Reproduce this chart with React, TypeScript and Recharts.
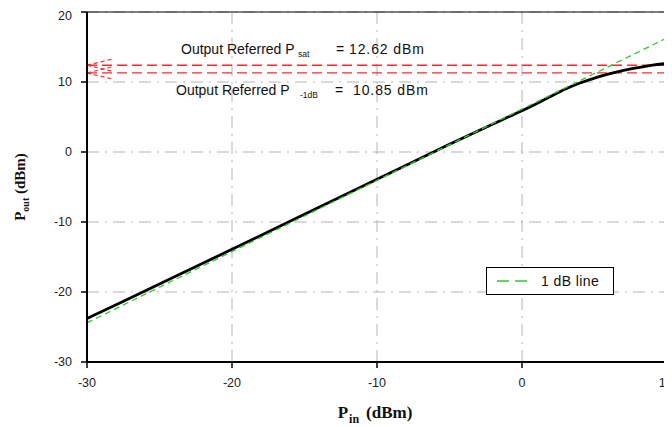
import {
  LineChart,
  Line,
  XAxis,
  YAxis,
  CartesianGrid,
  ReferenceLine,
  Legend,
} from "recharts";

// measured output power vs input power (dBm)
const pinMeasured = [-30, -25, -20, -15, -10, -5, -3, -2, -1, 0, 1, 2, 3, 4, 5, 6, 7, 8, 9, 10];
const poutMeasured = [
  -23.8, -18.85, -13.9, -8.9, -3.9, 1.1, 3.05, 4.0, 4.95, 5.9, 6.9, 7.95, 9.0, 9.85, 10.55, 11.15,
  11.65, 12.05, 12.4, 12.65,
];

// ideal 1 dB line
const oneDbPin = [-30, 10];
const oneDbPout = [-24.4, 16.3];

const xTicks = [-30, -20, -10, 0, 10];
const yTicks = [-30, -20, -10, 0, 10, 20];

// reference levels (as drawn) and their printed values
const psatLevel = 12.4;
const p1dbLevel = 11.3;
const psatText = "12.62 dBm";
const p1dbText = "10.85 dBm";

// little arrow strokes at the left end of the red lines
const arrowPin = [-30, -28.2];
const arrowSpread = [0.9, -0.9];

const measured = pinMeasured.map((x, i) => ({ x, y: poutMeasured[i] }));
const oneDb = oneDbPin.map((x, i) => ({ x, y: oneDbPout[i] }));
const arrows = [psatLevel, p1dbLevel].flatMap((level) =>
  arrowSpread.map((s) => [
    { x: arrowPin[0], y: level },
    { x: arrowPin[1], y: level + s },
  ])
);

const SANS = "Liberation Sans, Arial, sans-serif";
const SERIF = "Liberation Serif, Times New Roman, serif";
const RED = "#ff2b2b";
const GREEN = "#2ccc2c";

const SatLabel = (props: any) => {
  const { x, y } = props.viewBox;
  const by = y - 11;
  return (
    <text y={by} fontFamily={SANS} fontSize={14} fill="#111">
      <tspan x={x + 94}>Output Referred P</tspan>
      <tspan x={x + 211} y={by + 3} fontSize={8.5}>sat</tspan>
      <tspan x={x + 249} y={by}>=</tspan>
      <tspan x={x + 262} letterSpacing={0.9}>{psatText}</tspan>
    </text>
  );
};

const P1dbLabel = (props: any) => {
  const { x, y } = props.viewBox;
  const by = y + 22;
  return (
    <text y={by} fontFamily={SANS} fontSize={14} fill="#111">
      <tspan x={x + 89}>Output Referred P</tspan>
      <tspan x={x + 213} y={by + 3} fontSize={8.5}>-1dB</tspan>
      <tspan x={x + 248} y={by}>=</tspan>
      <tspan x={x + 266} letterSpacing={0.9}>{p1dbText}</tspan>
    </text>
  );
};

const YLabel = (props: any) => {
  const { y, height } = props.viewBox;
  const cx = 17;
  const cy = y + height / 2;
  return (
    <text
      x={cx}
      y={cy}
      transform={`rotate(-90 ${cx} ${cy})`}
      textAnchor="middle"
      fontFamily={SERIF}
      fontWeight="bold"
      fontSize={15}
      fill="#111"
    >
      P
      <tspan dy={4} fontSize={10}>out</tspan>
      <tspan dy={-4}> (dBm)</tspan>
    </text>
  );
};

const XLabel = (props: any) => {
  const { x, y, width } = props.viewBox;
  return (
    <text
      x={x + width / 2 - 2}
      y={y + 56}
      textAnchor="middle"
      fontFamily={SERIF}
      fontWeight="bold"
      fontSize={17}
      fill="#111"
    >
      P
      <tspan dx={1} dy={5} fontSize={12}>in</tspan>
      <tspan dx={7} dy={-5}>(dBm)</tspan>
    </text>
  );
};

const LegendBox = () => (
  <div
    style={{
      width: 126,
      height: 26,
      border: "1px solid #000",
      background: "#fff",
      display: "flex",
      alignItems: "center",
      fontFamily: SANS,
      fontSize: 14,
      letterSpacing: 0.4,
      color: "#111",
    }}
  >
    <svg width={54} height={10} style={{ display: "block" }}>
      <line x1={10} y1={5} x2={40} y2={5} stroke={GREEN} strokeWidth={1.5} strokeDasharray="12 6" />
    </svg>
    <span>1 dB line</span>
  </div>
);

const App = () => {
  return (
    <LineChart
      width={664}
      height={419}
      margin={{ top: 4, right: 5, left: 19, bottom: 35 }}
    >
      <CartesianGrid stroke="#b5b5b5" strokeDasharray="12 6 2 6" />
      <XAxis
        type="number"
        dataKey="x"
        domain={[-30, 10]}
        ticks={xTicks}
        height={30}
        tickSize={6}
        tickMargin={10}
        axisLine={{ stroke: "#000", strokeWidth: 2 }}
        tickLine={{ stroke: "#000", strokeWidth: 1.5 }}
        tick={{ fill: "#222", fontSize: 12.5, fontFamily: SANS }}
        label={<XLabel />}
      />
      <YAxis
        type="number"
        dataKey="y"
        domain={[-30, 20]}
        ticks={yTicks}
        width={60}
        tickSize={6}
        tickMargin={9}
        axisLine={{ stroke: "#000", strokeWidth: 2 }}
        tickLine={{ stroke: "#000", strokeWidth: 1.5 }}
        tick={{ fill: "#222", fontSize: 12.5, fontFamily: SANS }}
        label={<YLabel />}
      />
      <ReferenceLine y={20} stroke="#000" strokeWidth={1.2} />
      <ReferenceLine x={10} stroke="#000" strokeWidth={1.5} />
      <ReferenceLine
        y={psatLevel}
        stroke={RED}
        strokeWidth={1.4}
        strokeDasharray="10 5"
        label={<SatLabel />}
      />
      <ReferenceLine
        y={p1dbLevel}
        stroke={RED}
        strokeWidth={1.4}
        strokeDasharray="10 5"
        label={<P1dbLabel />}
      />
      {arrows.map((seg, i) => (
        <Line
          key={i}
          data={seg}
          dataKey="y"
          stroke={RED}
          strokeWidth={1.2}
          strokeDasharray="4 3"
          dot={false}
          legendType="none"
          isAnimationActive={false}
        />
      ))}
      <Line
        data={measured}
        dataKey="y"
        type="monotone"
        stroke="#000"
        strokeWidth={2.8}
        dot={false}
        isAnimationActive={false}
      />
      <Line
        data={oneDb}
        dataKey="y"
        name="1 dB line"
        stroke={GREEN}
        strokeWidth={1.3}
        strokeDasharray="6 4"
        dot={false}
        isAnimationActive={false}
      />
      <Legend
        layout="horizontal"
        verticalAlign="middle"
        align="center"
        content={<LegendBox />}
        wrapperStyle={{ left: 478, top: 259, width: 128, height: 28 }}
      />
    </LineChart>
  );
};

export default App;
